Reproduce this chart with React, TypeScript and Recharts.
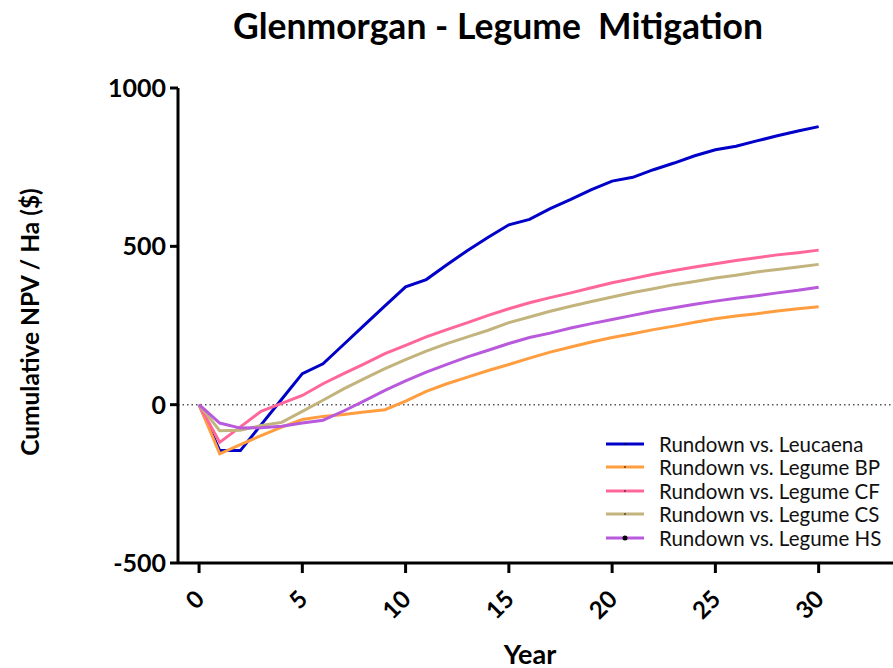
import { LineChart, Line, XAxis, YAxis, ReferenceLine } from 'recharts';

const years = [0, 1, 2, 3, 4, 5, 6, 7, 8, 9, 10, 11, 12, 13, 14, 15, 16, 17, 18, 19, 20, 21, 22, 23, 24, 25, 26, 27, 28, 29, 30];

const leucaena = [0, -145, -145, -64, 17, 98, 129, 190, 251, 312, 372, 395, 442, 487, 529, 568, 585, 619, 648, 679, 706, 718, 742, 763, 786, 805, 816, 833, 849, 864, 878];
const legumeBP = [0, -155, -126, -98, -71, -47, -37, -31, -23, -16, 11, 42, 66, 87, 108, 127, 147, 166, 182, 198, 212, 224, 237, 248, 260, 271, 280, 287, 296, 303, 309];
const legumeCF = [0, -119, -70, -21, 4, 29, 66, 98, 129, 161, 187, 214, 237, 259, 282, 303, 322, 338, 353, 369, 385, 398, 412, 424, 435, 445, 455, 464, 473, 480, 488];
const legumeCS = [0, -82, -81, -66, -56, -21, 14, 50, 82, 114, 142, 169, 193, 214, 235, 259, 277, 295, 311, 326, 340, 354, 366, 379, 389, 400, 409, 419, 427, 435, 443];
const legumeHS = [0, -58, -74, -73, -68, -58, -49, -20, 12, 45, 75, 103, 127, 151, 172, 193, 212, 226, 242, 256, 269, 282, 295, 306, 317, 327, 336, 344, 353, 361, 371];

const xTicks = [0, 5, 10, 15, 20, 25, 30];
const yTicks = [-500, 0, 500, 1000];

const series = [
  { key: 'leucaena', name: 'Rundown vs. Leucaena', color: '#0000C8', values: leucaena },
  { key: 'bp', name: 'Rundown vs. Legume BP', color: '#FF9D3F', values: legumeBP },
  { key: 'cf', name: 'Rundown vs. Legume CF', color: '#FF6699', values: legumeCF },
  { key: 'cs', name: 'Rundown vs. Legume CS', color: '#C2B47C', values: legumeCS },
  { key: 'hs', name: 'Rundown vs. Legume HS', color: '#B85ADB', values: legumeHS },
];

const data = years.map((year, i) => {
  const row: Record<string, number> = { year };
  series.forEach((s) => { row[s.key] = s.values[i]; });
  return row;
});

const FONT = 'Lato, "Open Sans", sans-serif';

// rotated tick labels, anchored at their top-right end just under the tick
const XTick = (props: any) => {
  const { x, y, payload } = props;
  const ax = x;
  const ay = y + 19;
  return (
    <text x={ax} y={ay} transform={`rotate(-45 ${ax} ${ay})`} textAnchor="end" dominantBaseline="central"
      fontFamily={FONT} fontWeight={700} fontSize={24} fill="#000">
      {payload.value}
    </text>
  );
};

const LegendBox = () => (
  <div style={{ position: 'absolute', left: 605, top: 432, fontFamily: FONT, fontSize: 20.5, color: '#111' }}>
    {series.map((s) => (
      <div key={s.key} style={{ display: 'flex', alignItems: 'center', height: 23.5 }}>
        <svg width={40} height={10} style={{ marginRight: 14 }}>
          <line x1={1} y1={5} x2={39} y2={5} stroke={s.color} strokeWidth={3} />
          <circle cx={20} cy={5} r={s.key === 'hs' ? 2.5 : 0.8} fill="#000" />
        </svg>
        <span>{s.name}</span>
      </div>
    ))}
  </div>
);

export default function App() {
  return (
    <div style={{ position: 'absolute', left: 0, top: 0, width: 893, height: 668, background: '#fff' }}>
      <div style={{ position: 'absolute', left: 0, top: 4, width: 996, textAlign: 'center', fontFamily: FONT, fontWeight: 700, fontSize: 35.5 }}>
        Glenmorgan - Legume&nbsp; Mitigation
      </div>
      <LineChart width={893} height={668} data={data} margin={{ top: 88, right: 0, bottom: 45, left: 0 }}>
        <XAxis
          dataKey="year"
          type="number"
          domain={[-1.02, 33.6]}
          ticks={xTicks}
          allowDataOverflow
          height={60}
          tick={<XTick />}
          tickSize={10}
          axisLine={{ stroke: '#000', strokeWidth: 3 }}
          tickLine={{ stroke: '#000', strokeWidth: 3 }}
        />
        <YAxis
          type="number"
          domain={[-500, 1000]}
          ticks={yTicks}
          width={178}
          tickSize={8}
          tickMargin={4}
          axisLine={{ stroke: '#000', strokeWidth: 3 }}
          tickLine={{ stroke: '#000', strokeWidth: 3 }}
          tick={{ fontFamily: FONT, fontWeight: 700, fontSize: 25, fill: '#000' }}
        />
        <ReferenceLine y={0} stroke="#555" strokeWidth={1.5} strokeDasharray="1.5 3" />
        {series.map((s) => (
          <Line
            key={s.key}
            dataKey={s.key}
            name={s.name}
            stroke={s.color}
            strokeWidth={3}
            dot={false}
            type="linear"
            isAnimationActive={false}
          />
        ))}
        <text x={29} y={322} transform="rotate(-90 29 322)" textAnchor="middle" dominantBaseline="central"
          fontFamily={FONT} fontWeight={700} fontSize={24.5} fill="#000">
          Cumulative NPV / Ha ($)
        </text>
        <text x={530} y={653} textAnchor="middle" dominantBaseline="central"
          fontFamily={FONT} fontWeight={700} fontSize={27} fill="#000">
          Year
        </text>
      </LineChart>
      <LegendBox />
    </div>
  );
}
